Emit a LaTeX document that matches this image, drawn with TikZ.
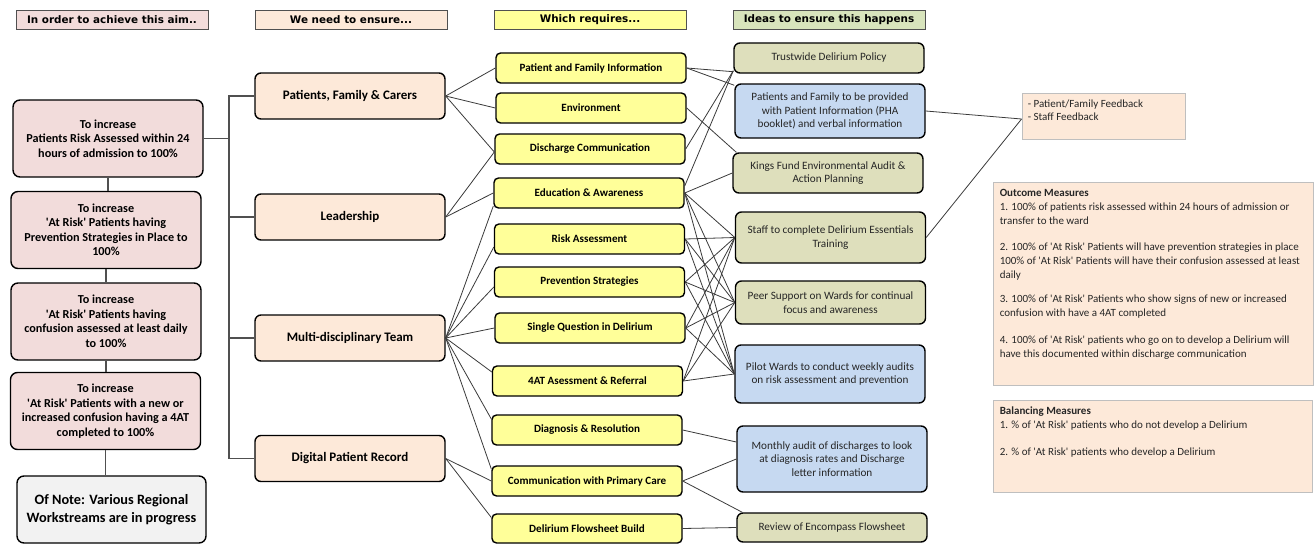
\documentclass[tikz,border=0pt]{standalone}
\usepackage{fontspec}
\setmainfont{Carlito}
\newfontfamily\hdrfont{DejaVu Sans}
\usetikzlibrary{calc}
\definecolor{aimpink}{HTML}{F2DCDB}
\definecolor{peach}{HTML}{FDE9D9}
\definecolor{yel}{HTML}{FFFF99}
\definecolor{olive}{HTML}{DEDFBC}
\definecolor{oliveh}{HTML}{D8E4BC}
\definecolor{bluebox}{HTML}{C6D9F1}
\definecolor{notegray}{HTML}{F2F2F2}
\definecolor{linkgray}{HTML}{3A3A3A}
\definecolor{treegray}{HTML}{505050}
\definecolor{txtgray}{HTML}{262626}
\definecolor{measline}{HTML}{BFBFBF}
\newcommand\sq{\textquotesingle}
\begin{document}
\begin{tikzpicture}[x=1pt,y=-1pt,
  hdr/.style={draw=treegray, line width=0.9pt, minimum width=192pt, minimum height=19pt,
    inner sep=0pt, font=\hdrfont\bfseries\fontsize{10.4}{12}\selectfont},
  rbox/.style={draw=black, line width=1.4pt, inner sep=0pt, align=center},
  aimbox/.style={rbox, fill=aimpink, rounded corners=7pt, minimum width=190pt, minimum height=77pt,
    font=\bfseries\fontsize{12.2}{14.5}\selectfont},
  needbox/.style={rbox, fill=peach, rounded corners=6pt, minimum width=190pt, minimum height=46pt,
    font=\bfseries\fontsize{13}{15}\selectfont},
  reqbox/.style={rbox, fill=yel, rounded corners=4.5pt, minimum width=190pt, minimum height=30pt,
    font=\bfseries\fontsize{11.1}{13}\selectfont},
  ideabox/.style={rbox, fill=olive, rounded corners=6pt, minimum width=190pt, text=txtgray,
    font=\fontsize{11.2}{13.5}\selectfont},
  blueidea/.style={ideabox, fill=bluebox},
  measbox/.style={draw=measline, line width=0.9pt, fill=peach, inner sep=0pt},
  meastext/.style={anchor=north west, align=left, inner sep=0pt, text=txtgray,
    font=\fontsize{11}{14}\selectfont},
  link/.style={draw=linkgray, line width=0.8pt},
  tree/.style={draw=treegray, line width=1.1pt}]
\useasboundingbox (0,0) rectangle (1316,543);

% column headings
\node[hdr, fill=aimpink] (hA) at (112,19.5) {In order to achieve this aim..};
\node[hdr, fill=peach]   (hB) at (351,19.5) {We need to ensure...};
\node[hdr, fill=yel]     (hC) at (590,19.5) {Which requires...};
\node[hdr, fill=oliveh]  (hD) at (829,19.5) {Ideas to ensure this happens};

% aims
\node[aimbox] (aimA) at (108,138.5) {To increase\\Patients Risk Assessed within 24\\hours of admission to 100\%};
\node[aimbox] (aimB) at (106,230) {To increase\\\sq At Risk\sq{} Patients having\\Prevention Strategies in Place to\\100\%};
\node[aimbox] (aimC) at (106,321.5) {To increase\\\sq At Risk\sq{} Patients having\\confusion assessed at least daily\\to 100\%};
\node[aimbox] (aimD) at (105.5,411) {To increase\\\sq At Risk\sq{} Patients with a new or\\increased confusion having a 4AT\\completed to 100\%};
\node[aimbox, fill=notegray, minimum width=189pt, minimum height=67pt,
      font=\bfseries\fontsize{14.3}{18}\selectfont] (note) at (111.5,509.5)
      {Of Note: Various Regional\\Workstreams are in progress};

% primary drivers
\node[needbox] (pfc)  at (350,96)    {Patients, Family \& Carers};
\node[needbox] (lead) at (350,217)   {Leadership};
\node[needbox] (mdt)  at (350,338)   {Multi-disciplinary Team};
\node[needbox] (dpr)  at (350,458.5) {Digital Patient Record};

% secondary drivers
\node[reqbox] (pfi) at (591,68)  {Patient and Family Information};
\node[reqbox] (env) at (591,108) {Environment};
\node[reqbox] (dc)  at (590,149) {Discharge Communication};
\node[reqbox] (ea)  at (589,193) {Education \& Awareness};
\node[reqbox] (ra)  at (589.5,239) {Risk Assessment};
\node[reqbox] (ps)  at (589.5,282) {Prevention Strategies};
\node[reqbox] (sq)  at (590,328) {Single Question in Delirium};
\node[reqbox] (fat) at (587.5,381) {4AT Asessment \& Referral};
\node[reqbox] (dr)  at (587,430) {Diagnosis \& Resolution};
\node[reqbox] (cpc) at (587,481) {Communication with Primary Care};
\node[reqbox, minimum height=29pt] (dfb) at (587,528.5) {Delirium Flowsheet Build};

% change ideas
\node[ideabox, minimum height=30pt] (tw) at (829,58) {Trustwide Delirium Policy};
\node[blueidea, minimum height=54pt] (pha) at (830,111) {Patients and Family to be provided\\with Patient Information (PHA\\booklet) and verbal information};
\node[ideabox, minimum height=40pt] (kf) at (828,173) {Kings Fund Environmental Audit \&\\Action Planning};
\node[ideabox, minimum height=51pt] (st) at (830.5,237.5) {Staff to complete Delirium Essentials\\Training};
\node[ideabox, minimum height=43pt] (peer) at (830.5,302.5) {Peer Support on Wards for continual\\focus and awareness};
\node[blueidea, minimum height=58pt] (pw) at (830,374) {Pilot Wards to conduct weekly audits\\on risk assessment and prevention};
\node[blueidea, minimum height=66pt] (ma) at (832,459) {Monthly audit of discharges to look\\at diagnosis rates and Discharge\\letter information};
\node[ideabox, minimum height=29pt] (rv) at (832,527.5) {Review of Encompass Flowsheet};

% measures
\node[measbox, minimum width=163pt, minimum height=46pt] (fb) at (1103.5,116) {};
\node[meastext, font=\fontsize{11}{13.5}\selectfont] (fbt) at ([xshift=6pt,yshift=-7pt]fb.north west)
  {- Patient/Family Feedback\\- Staff Feedback};
\node[measbox, minimum width=320pt, minimum height=203pt] (om) at (1153,283.5) {};
\node[meastext] (omt) at ([xshift=7pt,yshift=-8pt]om.north west)
  {\textbf{Outcome Measures}\\
   1. 100\% of patients risk assessed within 24 hours of admission or\\
   transfer to the ward\\[12pt]
   2. 100\% of \sq At Risk\sq{} Patients will have prevention strategies in place\\
   100\% of \sq At Risk\sq{} Patients will have their confusion assessed at least\\
   daily\\[10pt]
   3. 100\% of \sq At Risk\sq{} Patients who show signs of new or increased\\
   confusion with have a 4AT completed\\[13pt]
   4. 100\% of \sq At Risk\sq{} patients who go on to develop a Delirium will\\
   have this documented within discharge communication};
\node[measbox, minimum width=319pt, minimum height=92pt] (bm) at (1152.5,446) {};
\node[meastext] (bmt) at ([xshift=7pt,yshift=-7pt]bm.north west)
  {\textbf{Balancing Measures}\\
   1. \% of \sq At Risk\sq{} patients who do not develop a Delirium\\[13pt]
   2. \% of \sq At Risk\sq{} patients who develop a Delirium};

% aim chain and tree
\coordinate (trunk) at (229,0);
\draw[tree] (aimA.south) -- (aimA.south |- aimB.north);
\draw[tree] (aimB.south) -- (aimB.south |- aimC.north);
\draw[tree] (aimC.south) -- (aimC.south |- aimD.north);
\draw[tree] (aimD.south) -- (aimD.south |- note.north);
\draw[tree] (pfc.west) -| (trunk |- dpr.west) -- (dpr.west);
\draw[tree] (aimA.east) -- (aimA.east -| trunk);
\draw[tree] (lead.west) -- (lead.west -| trunk);
\draw[tree] (mdt.west) -- (mdt.west -| trunk);

% primary to secondary drivers
\draw[link] (pfc.east) -- (pfi.west);
\draw[link] (pfc.east) -- (env.west);
\draw[link] (pfc.east) -- ([yshift=-3pt]dc.west);
\draw[link] (lead.east) -- ([yshift=-3pt]dc.west);
\draw[link] (lead.east) -- (ea.west);
\draw[link] (mdt.east) -- ([yshift=-13pt]ea.west);
\draw[link] (mdt.east) -- ([yshift=-8pt]ra.west);
\draw[link] (mdt.east) -- ([yshift=-5pt]ps.west);
\draw[link] (mdt.east) -- (sq.west);
\draw[link] (mdt.east) -- ([yshift=9pt]fat.west);
\draw[link] (mdt.east) -- ([yshift=11pt]dr.west);
\draw[link] (mdt.east) -- ([yshift=12pt]cpc.west);
\draw[link] (dpr.east) -- (cpc.west);
\draw[link] (dpr.east) -- ([yshift=11pt]dfb.west);

% secondary drivers to change ideas
\draw[link] (pfi.east) -- ([yshift=2pt]tw.south west);
\draw[link] (pfi.east) -- ([yshift=-2pt]pha.north west);
\draw[link] (env.east) -- ([xshift=4pt]kf.north west);
\draw[link] (dc.east) -- ([yshift=3pt]tw.south west);
\draw[link] ([yshift=7pt]ea.east) -- ([yshift=3pt]tw.south west);
\draw[link] (ea.east) -- (kf.west);
\foreach \src in {ea,ra,ps,sq,fat}{
  \draw[link] (\src.east) -- (st.west);
  \draw[link] (\src.east) -- (peer.west);
  \draw[link] (\src.east) -- (pw.west);
}
\draw[link] (dr.east) -- ([yshift=17pt]ma.west);
\draw[link] (cpc.east) -- (ma.west);
\draw[link] (cpc.east) -- ([xshift=6pt]rv.north west);
\draw[link] (dfb.east) -- (rv.west);

% change ideas to measures
\draw[link] (pha.east) -- ([yshift=-3pt]fb.west);
\draw[link] (st.east) -- ([yshift=-3pt]fb.west);
\end{tikzpicture}
\end{document}
